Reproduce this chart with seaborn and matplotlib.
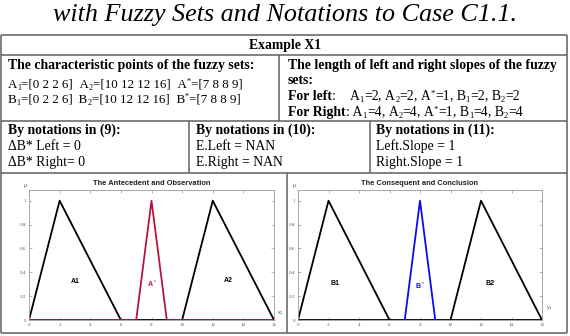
import matplotlib
matplotlib.use("Agg")
import matplotlib.pyplot as plt
import seaborn as sns

# characteristic points [a b c d] of the trapezoidal fuzzy sets
A1 = [0, 2, 2, 6]
A2 = [10, 12, 12, 16]
A_star = [7, 8, 8, 9]
B1 = [0, 2, 2, 6]
B2 = [10, 12, 12, 16]
B_star = [7, 8, 8, 9]
mu = [0, 1, 1, 0]          # membership grade at the characteristic points
universe = [0, 16]

# slope lengths shown in the table
left_slopes = {"A1": 2, "A2": 2, "A*": 1, "B1": 2, "B2": 2}
right_slopes = {"A1": 4, "A2": 4, "A*": 1, "B1": 4, "B2": 4}

x_ticks = [0, 2, 4, 6, 8, 10, 12, 14, 16]
y_ticks = [0, 0.2, 0.4, 0.6, 0.8, 1]
y_tick_labels = ["0", "0.2", "0.4", "0.6", "0.8", "1"]

RED = "#B3163F"
BLUE = "#0A0AF5"
LINE = "#5f5f5f"

sns.set_theme(style="ticks")
plt.rcParams["font.family"] = ["Liberation Serif", "DejaVu Serif"]
plt.rcParams["mathtext.fontset"] = "custom"
plt.rcParams["mathtext.rm"] = "Liberation Sans"

W, H = 570, 336
fig = plt.figure(figsize=(W / 100, H / 100), dpi=100)
renderer = fig.canvas.get_renderer()

# overlay in pixel coordinates for the table frame and its text
bg = fig.add_axes([0, 0, 1, 1])
bg.set_xlim(0, W)
bg.set_ylim(H, 0)
bg.axis("off")

def hline(y, x0=1, x1=567):
    bg.plot([x0, x1], [y, y], color=LINE, lw=1.1, solid_capstyle="butt")

def vline(x, y0, y1):
    bg.plot([x, x], [y0, y1], color=LINE, lw=1.1, solid_capstyle="butt")

hline(35); hline(55); hline(121); hline(173); hline(333)
vline(1, 35, 333); vline(567, 35, 333)
vline(279, 55, 121)
vline(189, 121, 173); vline(370, 121, 173)
vline(287, 173, 333)

bg.text(285, 21, "with Fuzzy Sets and Notations to Case C1.1.", fontsize=18.8,
        style="italic", ha="center", va="baseline", color="black")

fs = 9.9

def t(x, y, s, bold=False, ha="left"):
    bg.text(x, y + 3.6, s, fontsize=fs, ha=ha, va="baseline",
            fontweight="bold" if bold else "normal", color="black")

def rich(x, y, segs, size0=fs):
    """segments: (text, kind) with kind n / b / sub / sup"""
    base = y + 3.6
    for s, kind in segs:
        size, dy, weight = size0, 0, "normal"
        if kind == "b":
            weight = "bold"
        elif kind == "sub":
            size, dy = size0 * 0.62, 2.2
        elif kind == "sup":
            size, dy = size0 * 0.62, -4.2
        txt = bg.text(x, base + dy, s.replace(" ", "\u00a0"), fontsize=size,
                      fontweight=weight, ha="left", va="baseline", color="black")
        x += txt.get_window_extent(renderer).width

def set_line(names_pts):
    segs = []
    for i, (letter, idx, pts) in enumerate(names_pts):
        segs.append((("  " if i else "") + letter, "n"))
        segs.append((idx, "sup" if idx == "*" else "sub"))
        segs.append(("=[" + " ".join(str(v) for v in pts) + "]", "n"))
    return segs

def slope_line(label, slopes):
    segs = [(label, "b"), (":", "n")]
    for i, (k, v) in enumerate(slopes.items()):
        segs.append(((", " if i else " ") + k[0], "n"))
        segs.append((k[1], "sup" if k[1] == "*" else "sub"))
        segs.append(("=" + str(v), "n"))
    return segs

t(285, 45, "Example X1", bold=True, ha="center")

t(8, 65, "The characteristic points of the fuzzy sets:", bold=True)
rich(8, 84, set_line([("A", "1", A1), ("A", "2", A2), ("A", "*", A_star)]), 9.4)
rich(8, 99, set_line([("B", "1", B1), ("B", "2", B2), ("B", "*", B_star)]), 9.4)

t(288, 65, "The length of left and right slopes of the fuzzy", bold=True)
t(288, 80, "sets:", bold=True)
sl = slope_line("For left", left_slopes)
sl[1] = (":    ", "n")
sl[2] = ("A", "n")
rich(288, 96, sl)
rich(288, 112, slope_line("For Right", right_slopes))

t(8, 130, "By notations in (9):", bold=True)
t(8, 146, "\u0394B* Left = 0")
t(8, 162, "\u0394B* Right= 0")
t(196, 130, "By notations in (10):", bold=True)
t(196, 146, "E.Left = NAN")
t(196, 162, "E.Right = NAN")
t(376, 130, "By notations in (11):", bold=True)
t(376, 146, "Left.Slope = 1")
t(376, 162, "Right.Slope = 1")


def panel(x0, x1, title, sets, star, star_color, star_baseline, names, star_name,
          var_name, var_pos):
    ax = fig.add_axes([x0 / W, (H - 320) / H, (x1 - x0) / W, 130 / H])
    ax.set_facecolor("white")
    # black sets with a baseline over the whole universe
    sns.lineplot(x=universe, y=[0, 0], ax=ax, color="black", lw=1.3,
                 estimator=None, sort=False)
    for pts in sets:
        sns.lineplot(x=pts, y=mu, ax=ax, color="black", lw=1.3,
                     estimator=None, sort=False)
    if star_baseline:
        xs = [universe[0]] + star + [universe[1]]
        ys = [0] + mu + [0]
    else:
        xs, ys = star, mu
    sns.lineplot(x=xs, y=ys, ax=ax, color=star_color, lw=1.3,
                 estimator=None, sort=False)

    ax.set_xlim(universe)
    ax.set_ylim(0, 1.09)
    ax.set_xticks(x_ticks)
    ax.set_xticklabels([str(v) for v in x_ticks])
    ax.set_yticks(y_ticks)
    ax.set_yticklabels(y_tick_labels)
    ax.tick_params(direction="in", length=2, width=0.5, color="#999999",
                   labelsize=3.6, labelcolor="#555555", pad=2,
                   top=True, right=True)
    for sp in ax.spines.values():
        sp.set_visible(True)
        sp.set_color("#9a9a9a")
        sp.set_linewidth(0.6)
    ax.set_xlabel("")
    ax.set_ylabel("")
    ax.set_title(title, fontsize=5.4, fontweight="bold", family="Liberation Sans",
                 pad=3.5, color="#222222")

    for (nx, ny, s), col in zip(names + [star_name],
                                ["black"] * len(names) + [star_color]):
        ax.text(nx, ny, s, fontsize=5, fontweight="bold",
                family="Liberation Sans", color=col, ha="center", va="center")
    ax.text(-0.25, 1.11, "\u03bc", fontsize=3.6, color="#555555",
            family="Liberation Sans", ha="center", va="bottom", clip_on=False)
    ax.text(var_pos[0], var_pos[1], var_name, fontsize=4, color="#555555",
            family="Liberation Sans", ha="left", va="center", clip_on=False)
    return ax


panel(29, 274, "The Antecedent and Observation", [A1, A2], A_star, RED, True,
      [(3.0, 0.32, "A1"), (13.0, 0.33, "A2")], (8.0, 0.30, r"A$^*$"),
      r"x$_1$", (16.2, 0.06))
panel(298, 542, "The Consequent and Conclusion", [B1, B2], B_star, BLUE, False,
      [(2.4, 0.31, "B1"), (12.6, 0.31, "B2")], (8.0, 0.28, r"B$^*$"),
      r"y$_1$", (16.25, 0.1))

fig.savefig("out.png", dpi=100)
